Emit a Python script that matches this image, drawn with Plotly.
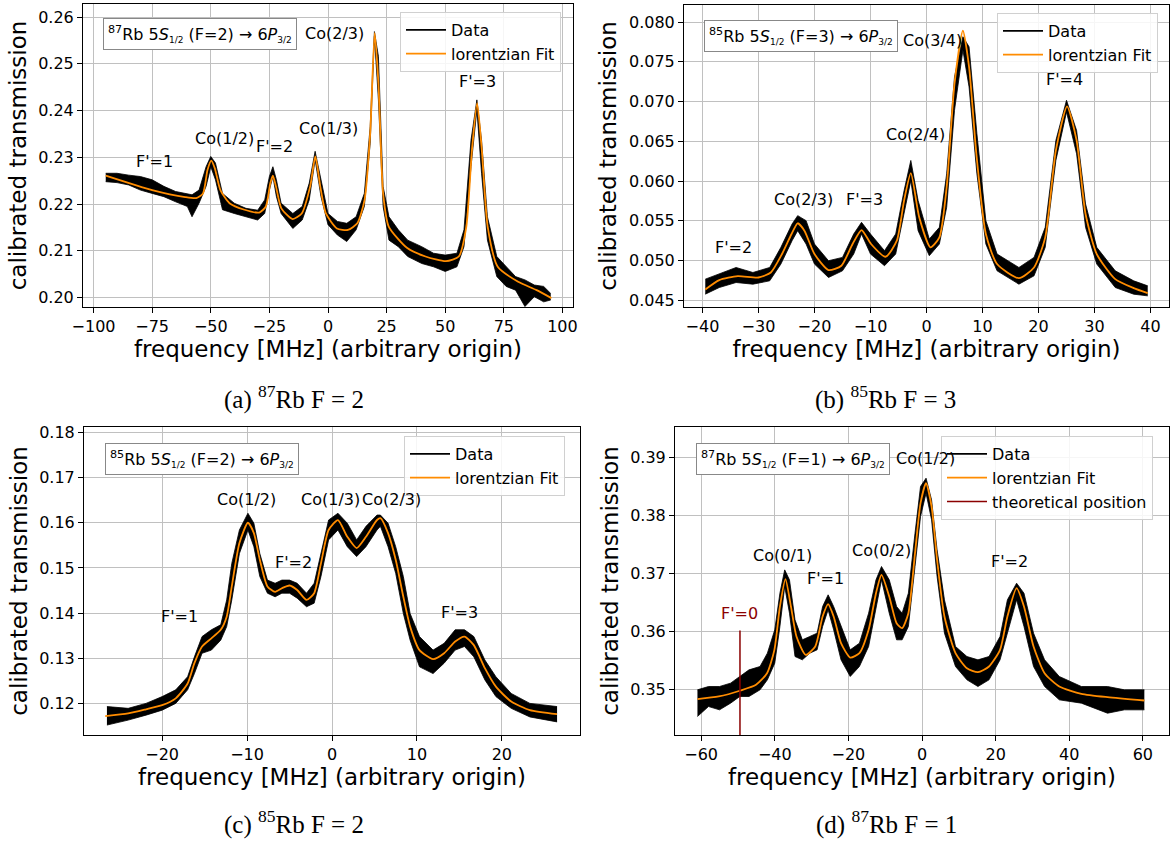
import plotly.graph_objects as go

W, H = 1171, 846
SANS = "DejaVu Sans"
SERIF = "Liberation Serif"

# ---------------- Panel (a): 87Rb F=2 ----------------
fit_freq_a = [-94.8, -75.0, -60.9, -56.2, -53.3, -51.4, -49.8, -48.3, -45.9, -42.0, -35.6, -29.3, -26.5, -24.6, -23.5,
              -22.2, -19.9, -15.1, -11.2, -7.6, -5.4, -3.3, -0.9, 3.8, 8.5, 12.5, 15.6, 18.0, 19.9, 21.5, 23.5, 25.9,
              33.8, 41.6, 50.3, 55.8, 59.0, 61.4, 63.6, 65.6, 68.1, 72.4, 81.1, 89.0, 95.3]
fit_a = [0.2261, 0.2230, 0.2215, 0.2213, 0.2223, 0.2273, 0.2293, 0.2277, 0.2230, 0.2202, 0.2188, 0.2182, 0.2195, 0.2245,
         0.2261, 0.2238, 0.2191, 0.2168, 0.2180, 0.2238, 0.2302, 0.2238, 0.2180, 0.2148, 0.2145, 0.2159, 0.2209, 0.2352,
         0.2566, 0.2459, 0.2223, 0.2152, 0.2106, 0.2088, 0.2078, 0.2088, 0.2152, 0.2316, 0.2416, 0.2316, 0.2152, 0.2066,
         0.2034, 0.2016, 0.1999]
data_freq_a = [-94.8, -90, -85, -80, -75, -70, -65, -60, -58, -55, -52, -50, -48, -45, -40, -35, -30, -27, -25, -23.5,
               -22, -20, -15, -11, -8, -5.5, -3, 0, 4, 8, 12, 15.5, 18, 19.8, 21.5, 23.5, 26, 30, 34, 40,
               45, 50, 55, 58, 61, 63.5, 65.5, 68, 72, 76, 80, 84, 88, 92, 95]
data_hi_a = [0.2266, 0.2266, 0.2262, 0.2259, 0.2252, 0.2238, 0.2227, 0.2223, 0.2220, 0.2230, 0.2280, 0.2302, 0.2288,
             0.2223, 0.2202, 0.2191, 0.2187, 0.2209, 0.2259, 0.2280, 0.2252, 0.2202, 0.2180, 0.2195, 0.2245, 0.2313,
             0.2252, 0.2180, 0.2163, 0.2159, 0.2173, 0.2223, 0.2366, 0.2569, 0.2516, 0.2238, 0.2173, 0.2145, 0.2123,
             0.2109, 0.2095, 0.2091, 0.2095, 0.2145, 0.2337, 0.2423, 0.2337, 0.2173, 0.2088, 0.2066, 0.2045, 0.2038,
             0.2027, 0.2024, 0.2009]
data_lo_a = [0.2248, 0.2246, 0.2241, 0.2230, 0.2223, 0.2216, 0.2205, 0.2195, 0.2173, 0.2202, 0.2238, 0.2280, 0.2252,
             0.2188, 0.2180, 0.2173, 0.2166, 0.2180, 0.2230, 0.2259, 0.2216, 0.2180, 0.2148, 0.2166, 0.2209, 0.2295,
             0.2216, 0.2156, 0.2134, 0.2120, 0.2145, 0.2195, 0.2330, 0.2559, 0.2423, 0.2195, 0.2123, 0.2109, 0.2088,
             0.2073, 0.2066, 0.2056, 0.2066, 0.2109, 0.2280, 0.2402, 0.2266, 0.2123, 0.2045, 0.2024, 0.2016, 0.1981,
             0.2002, 0.1991, 0.1995]
labels_a = ["F'=1", "Co(1/2)", "F'=2", "Co(1/3)", "Co(2/3)", "F'=3"]
label_x_a = [-73.9, -44.1, -22.8, 0.1, 2.9, 63.6]
label_y_a = [0.2291, 0.2341, 0.2323, 0.2361, 0.2564, 0.2462]

# ---------------- Panel (b): 85Rb F=3 ----------------
fit_freq_b = [-39.5, -37.0, -33.7, -30.0, -27.8, -25.8, -24.1, -23.0, -21.8, -20.0, -17.5, -15.2, -13.2, -11.6, -9.9,
              -7.3, -5.3, -4.0, -2.8, -1.3, 0.7, 2.3, 3.6, 5.0, 6.5, 7.6, 8.9, 10.6, 12.6, 16.5, 19.2, 21.2, 23.1,
              25.1, 26.8, 28.4, 30.4, 33.7, 37.0, 39.5]
fit_b = [0.04636, 0.04754, 0.04804, 0.04787, 0.04850, 0.05082, 0.05334, 0.05469, 0.05376, 0.05082, 0.04880, 0.04935,
         0.05208, 0.05384, 0.05208, 0.05048, 0.05250, 0.05755, 0.06099, 0.05544, 0.05166, 0.05292, 0.05923, 0.07226,
         0.07891, 0.07437, 0.06343, 0.05334, 0.04956, 0.04779, 0.04913, 0.05292, 0.06385, 0.06940, 0.06511, 0.05586,
         0.05082, 0.04766, 0.04653, 0.04590]
data_freq_b = [-39.5, -37, -34, -31, -28, -26, -24, -23, -21.5, -20, -17.5, -15, -13, -11.6, -10, -7.5, -5.5, -4, -2.8,
               -1.5, 0.5, 2.3, 3.6, 5, 6.5, 7.6, 9, 10.6, 12.6, 16.5, 19.2, 21.2, 23.1, 25, 26.8, 28.4, 30.4, 33.7,
               37, 39.5]
data_hi_b = [0.04766, 0.04829, 0.04913, 0.04850, 0.04913, 0.05166, 0.05460, 0.05565, 0.05502, 0.05208, 0.04998,
             0.05040, 0.05334, 0.05481, 0.05334, 0.05124, 0.05334, 0.05881, 0.06259, 0.05755, 0.05271, 0.05418,
             0.06091, 0.07310, 0.07815, 0.07689, 0.06596, 0.05502, 0.05082, 0.04913, 0.05040, 0.05418, 0.06511,
             0.07016, 0.06637, 0.05712, 0.05166, 0.04871, 0.04745, 0.04682]
data_lo_b = [0.04577, 0.04661, 0.04724, 0.04703, 0.04745, 0.04956, 0.05250, 0.05376, 0.05208, 0.04956, 0.04787,
             0.04871, 0.05082, 0.05334, 0.05082, 0.04935, 0.05082, 0.05586, 0.06007, 0.05376, 0.05061, 0.05208,
             0.05670, 0.06890, 0.07647, 0.07184, 0.06091, 0.05208, 0.04871, 0.04703, 0.04808, 0.05166, 0.06259,
             0.06869, 0.06343, 0.05418, 0.04956, 0.04661, 0.04577, 0.04556]
labels_b = ["F'=2", "Co(2/3)", "F'=3", "Co(2/4)", "Co(3/4)", "F'=4"]
label_x_b = [-34.5, -22.0, -11.0, -2.0, 1.0, 24.7]
label_y_b = [0.0517, 0.0577, 0.0577, 0.0658, 0.0777, 0.0728]

# ---------------- Panel (c): 85Rb F=2 ----------------
fit_freq_c = [-26.7, -24.0, -21.9, -20.0, -18.4, -17.0, -16.2, -15.3, -14.2, -13.1, -12.4, -11.8, -10.9, -9.9, -9.2,
              -8.5, -7.6, -6.7, -5.9, -5.0, -4.1, -3.0, -2.1, -1.3, -0.4, 0.7, 1.8, 2.9, 4.0, 5.3, 5.7, 6.6, 7.5, 8.4,
              9.2, 10.3, 11.9, 13.2, 14.5, 15.6, 16.7, 18.0, 19.3, 21.1, 23.3, 26.5]
fit_c = [0.1172, 0.1178, 0.1187, 0.1196, 0.1211, 0.1244, 0.1289, 0.1326, 0.1344, 0.1363, 0.1392, 0.1459, 0.1555,
         0.1600, 0.1577, 0.1518, 0.1459, 0.1447, 0.1455, 0.1461, 0.1451, 0.1429, 0.1444, 0.1510, 0.1584, 0.1606,
         0.1569, 0.1544, 0.1569, 0.1606, 0.1610, 0.1577, 0.1518, 0.1436, 0.1370, 0.1318, 0.1298, 0.1311, 0.1337,
         0.1348, 0.1329, 0.1278, 0.1237, 0.1204, 0.1185, 0.1176]
data_freq_c = [-26.5, -24, -21.9, -20, -18.4, -17, -16.2, -15.3, -14.2, -13.1, -12.4, -11.8, -10.9, -9.9, -9.2, -8.5,
               -7.6, -6.7, -5.9, -5, -4.1, -3, -2.1, -1.3, -0.4, 0.7, 1.8, 2.9, 4, 5.3, 5.7, 6.6, 7.5, 8.4, 9.2, 10.3,
               11.9, 13.2, 14.5, 15.6, 16.7, 18, 19.3, 21.1, 23.3, 26.5]
data_hi_c = [0.1193, 0.1189, 0.1200, 0.1215, 0.1230, 0.1259, 0.1303, 0.1348, 0.1363, 0.1374, 0.1429, 0.1510, 0.1584,
             0.1621, 0.1599, 0.1532, 0.1473, 0.1466, 0.1473, 0.1473, 0.1466, 0.1444, 0.1466, 0.1532, 0.1606, 0.1621,
             0.1599, 0.1562, 0.1592, 0.1617, 0.1617, 0.1599, 0.1547, 0.1481, 0.1399, 0.1348, 0.1318, 0.1333, 0.1363,
             0.1363, 0.1348, 0.1296, 0.1259, 0.1222, 0.1200, 0.1193]
data_lo_c = [0.1152, 0.1163, 0.1174, 0.1185, 0.1200, 0.1230, 0.1266, 0.1311, 0.1318, 0.1340, 0.1370, 0.1429, 0.1532,
             0.1584, 0.1547, 0.1481, 0.1444, 0.1436, 0.1444, 0.1444, 0.1433, 0.1414, 0.1422, 0.1481, 0.1562, 0.1584,
             0.1547, 0.1525, 0.1547, 0.1584, 0.1592, 0.1547, 0.1488, 0.1399, 0.1340, 0.1281, 0.1266, 0.1289, 0.1318,
             0.1326, 0.1303, 0.1252, 0.1215, 0.1189, 0.1170, 0.1159]
labels_c = ["F'=1", "Co(1/2)", "F'=2", "Co(1/3)", "Co(2/3)", "F'=3"]
label_x_c = [-18.0, -10.1, -4.5, -0.15, 7.0, 15.0]
label_y_c = [0.1392, 0.1651, 0.1512, 0.1651, 0.1651, 0.1402]

# ---------------- Panel (d): 87Rb F=1 ----------------
fit_freq_d = [-61.0, -55.2, -49.3, -45.1, -42.1, -40.1, -38.6, -37.1, -35.6, -34.1, -31.6, -29.0, -27.0, -25.5, -24.0,
              -22.0, -19.5, -17.0, -14.5, -12.5, -11.0, -8.9, -6.9, -5.4, -3.7, -1.9, -0.4, 1.1, 2.6, 4.1, 6.1, 9.1,
              12.2, 15.2, 18.2, 21.2, 23.2, 25.7, 27.7, 30.3, 33.3, 37.3, 43.3, 50.4, 60.4]
fit_d = [0.34828, 0.34874, 0.34977, 0.35075, 0.35276, 0.35678, 0.36425, 0.36897, 0.36425, 0.35908, 0.35592, 0.35736,
         0.36253, 0.36466, 0.36253, 0.35793, 0.35546, 0.35621, 0.36023, 0.36655, 0.36971, 0.36598, 0.36138, 0.36052,
         0.36310, 0.37345, 0.38207, 0.38552, 0.38149, 0.37230, 0.36253, 0.35621, 0.35362, 0.35293, 0.35391, 0.35678,
         0.36253, 0.36741, 0.36425, 0.35736, 0.35276, 0.35046, 0.34920, 0.34862, 0.34805]
data_freq_d = [-61, -58, -55, -52, -49.5, -47, -44, -42, -40, -38.6, -37.3, -36, -34.5, -32.5, -30.5, -28.5, -27, -25.5,
               -24, -22, -19.5, -17, -14.5, -12.5, -11, -8.9, -6.9, -5.4, -3.7, -1.9, -0.4, 1.1, 2.6, 4.1, 6.1, 9.1,
               12.2, 15.2, 18.2, 21.2, 23.2, 25.7, 27.7, 30.3, 33.3, 37.3, 43.3, 50.4, 55, 60.4]
data_hi_d = [0.34989, 0.35046, 0.35046, 0.35104, 0.35219, 0.35333, 0.35391, 0.35621, 0.36023, 0.36655, 0.37057,
             0.36885, 0.36195, 0.35851, 0.35908, 0.35966, 0.36425, 0.36627, 0.36425, 0.36081, 0.35678, 0.35793,
             0.36310, 0.36885, 0.37115, 0.36885, 0.36425, 0.36310, 0.36655, 0.37690, 0.38494, 0.38638, 0.38264,
             0.37402, 0.36540, 0.35736, 0.35563, 0.35506, 0.35563, 0.35908, 0.36540, 0.36827, 0.36655, 0.35966,
             0.35506, 0.35219, 0.35046, 0.35046, 0.34989, 0.34989]
data_lo_d = [0.34529, 0.34701, 0.34644, 0.34759, 0.34874, 0.34874, 0.34989, 0.35161, 0.35448, 0.36081, 0.36770,
             0.36310, 0.35563, 0.35506, 0.35621, 0.35678, 0.36081, 0.36368, 0.36023, 0.35506, 0.35219, 0.35391,
             0.35736, 0.36425, 0.36885, 0.36310, 0.35851, 0.35851, 0.36081, 0.37115, 0.37977, 0.38379, 0.37920,
             0.36943, 0.35966, 0.35391, 0.35161, 0.35046, 0.35161, 0.35506, 0.35966, 0.36540, 0.36081, 0.35391,
             0.35046, 0.34816, 0.34759, 0.34586, 0.34644, 0.34644]
labels_d = ["Co(0/1)", "F'=1", "Co(0/2)", "Co(1/2)", "F'=2"]
label_x_d = [-37.9, -26.1, -11.0, 0.9, 23.9]
label_y_d = [0.3730, 0.3690, 0.3739, 0.3898, 0.3720]
theory_freq_d = -49.45
theory_top_d = 0.3601
theory_label_d = "F'=0"
theory_label_y_d = 0.3631

# ---------------- Texts ----------------
SUB12 = "<sub><span style='font-size:9px'>1/2</span></sub>"
SUB32 = "<sub><span style='font-size:9px'>3/2</span></sub>"
box_texts = [
    "<sup>87</sup>Rb 5<i>S</i>" + SUB12 + " (F=2) → 6<i>P</i>" + SUB32,
    "<sup>85</sup>Rb 5<i>S</i>" + SUB12 + " (F=3) → 6<i>P</i>" + SUB32,
    "<sup>85</sup>Rb 5<i>S</i>" + SUB12 + " (F=2) → 6<i>P</i>" + SUB32,
    "<sup>87</sup>Rb 5<i>S</i>" + SUB12 + " (F=1) → 6<i>P</i>" + SUB32,
]
captions = ["(a) <sup>87</sup>Rb F = 2", "(b) <sup>85</sup>Rb F = 3",
            "(c) <sup>85</sup>Rb F = 2", "(d) <sup>87</sup>Rb F = 1"]
x_title = "frequency [MHz] (arbitrary origin)"
y_title = "calibrated transmission"

# ---------------- Layout geometry (pixels) ----------------
# [left, right, top, bottom] of each plot area
boxes_px = [(83, 573, 4, 307), (684, 1169, 5, 307), (84, 580, 427, 735), (675, 1169, 427, 735)]
x_ranges = [[-104.5, 104.5], [-43.3, 43.3], [-29.2, 29.2], [-67.1, 67.1]]
y_ranges = [[0.1980, 0.2628], [0.04416, 0.08214], [0.1130, 0.1812], [0.3421, 0.3952]]
x_dticks = [25, 10, 10, 20]
y_dticks = [0.01, 0.005, 0.01, 0.01]
y_formats = [".2f", ".3f", ".2f", ".2f"]
box_pos_px = [(103, 18), (704, 20), (105, 443), (696, 443)]
legend_pos_px = [(400, 12), (997, 13), (404, 436), (941, 436)]
caption_pos_px = [(294, 397), (885, 397), (294, 822), (886, 822)]

panels = [
    (fit_freq_a, fit_a, data_freq_a, data_hi_a, data_lo_a, labels_a, label_x_a, label_y_a),
    (fit_freq_b, fit_b, data_freq_b, data_hi_b, data_lo_b, labels_b, label_x_b, label_y_b),
    (fit_freq_c, fit_c, data_freq_c, data_hi_c, data_lo_c, labels_c, label_x_c, label_y_c),
    (fit_freq_d, fit_d, data_freq_d, data_hi_d, data_lo_d, labels_d, label_x_d, label_y_d),
]

fig = go.Figure()
annotations = []
layout = dict(width=W, height=H, autosize=False, margin=dict(l=0, r=0, t=0, b=0),
              paper_bgcolor="white", plot_bgcolor="white",
              font=dict(family=SANS, size=16, color="black"))

for i, (ffx, ffy, dfx, dhi, dlo, labs, lx, ly) in enumerate(panels):
    n = "" if i == 0 else str(i + 1)
    xa, ya = "x" + n, "y" + n
    leg = "legend" + n
    l, r, t, b = boxes_px[i]
    layout["xaxis" + n] = dict(
        domain=[l / W, r / W], anchor=ya, range=x_ranges[i], dtick=x_dticks[i], tick0=0,
        showline=True, mirror=True, linecolor="black", linewidth=1,
        showgrid=True, gridcolor="#c0c0c0", gridwidth=1, zeroline=False,
        ticks="outside", ticklen=5, tickcolor="black", tickfont=dict(size=16, family=SANS),
        title=dict(text=x_title, font=dict(size=23, family=SANS), standoff=0), automargin=False)
    layout["yaxis" + n] = dict(
        domain=[1 - b / H, 1 - t / H], anchor=xa, range=y_ranges[i], dtick=y_dticks[i], tick0=0,
        tickformat=y_formats[i],
        showline=True, mirror=True, linecolor="black", linewidth=1,
        showgrid=True, gridcolor="#c0c0c0", gridwidth=1, zeroline=False,
        ticks="outside", ticklen=5, tickcolor="black", tickfont=dict(size=16, family=SANS),
        title=dict(text=y_title, font=dict(size=23, family=SANS), standoff=5), automargin=False)

    # Data: noise band between lower and upper envelope (black)
    fig.add_trace(go.Scatter(x=dfx, y=dlo, mode="lines", line=dict(color="black", width=0.8),
                             xaxis=xa, yaxis=ya, showlegend=False, hoverinfo="skip"))
    fig.add_trace(go.Scatter(x=dfx, y=dhi, mode="lines", fill="tonexty", fillcolor="black",
                             line=dict(color="black", width=0.8), xaxis=xa, yaxis=ya, showlegend=False,
                             hoverinfo="skip"))
    # legend entry for the data (legend key only)
    fig.add_trace(go.Scatter(x=[None], y=[None], mode="lines", name="Data", line=dict(color="black", width=1.8),
                             xaxis=xa, yaxis=ya, legend=leg, showlegend=True, legendrank=1))
    # Lorentzian fit
    fig.add_trace(go.Scatter(x=ffx, y=ffy, mode="lines", name="lorentzian Fit",
                             line=dict(color="darkorange", width=1.8, shape="spline", smoothing=0.6),
                             xaxis=xa, yaxis=ya, legend=leg, showlegend=True, legendrank=2))
    if i == 3:
        fig.add_trace(go.Scatter(x=[theory_freq_d, theory_freq_d], y=[y_ranges[3][0], theory_top_d],
                                 mode="lines", name="theoretical position",
                                 line=dict(color="#8b0000", width=1.5),
                                 xaxis=xa, yaxis=ya, legend=leg, showlegend=True, legendrank=3))
        annotations.append(dict(x=theory_freq_d, y=theory_label_y_d, xref=xa, yref=ya, text=theory_label_d,
                                showarrow=False, font=dict(size=16, color="#8b0000", family=SANS)))

    for txt, xx, yy in zip(labs, lx, ly):
        annotations.append(dict(x=xx, y=yy, xref=xa, yref=ya, text=txt, showarrow=False,
                                font=dict(size=16, family=SANS, color="black")))

    bx, by = box_pos_px[i]
    annotations.append(dict(x=bx / W, y=1 - by / H, xref="paper", yref="paper", xanchor="left", yanchor="top",
                            text=box_texts[i], showarrow=False, align="left",
                            bordercolor="#888888", borderwidth=1, borderpad=4, bgcolor="white",
                            font=dict(size=16, family=SANS, color="black")))

    cx, cy = caption_pos_px[i]
    annotations.append(dict(x=cx / W, y=1 - cy / H, xref="paper", yref="paper", xanchor="center",
                            yanchor="middle", text=captions[i], showarrow=False,
                            font=dict(size=25, family=SERIF, color="black")))

    lx0, ly0 = legend_pos_px[i]
    layout[leg] = dict(x=lx0 / W, y=1 - ly0 / H, xref="paper", yref="paper", xanchor="left", yanchor="top",
                       bgcolor="rgba(255,255,255,0.85)", bordercolor="#d0d0d0", borderwidth=1,
                       font=dict(size=16, family=SANS, color="black"), itemwidth=40,
                       tracegroupgap=0, traceorder="normal")

layout["annotations"] = annotations
fig.update_layout(**layout)
fig.write_html("out.html")
